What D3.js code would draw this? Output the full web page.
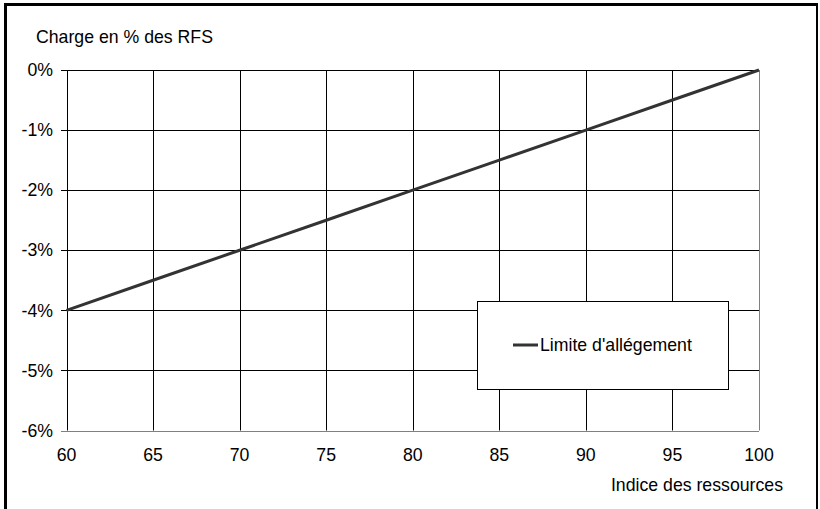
<!DOCTYPE html>
<html><head><meta charset="utf-8">
<script src="https://cdn.jsdelivr.net/npm/d3@7/dist/d3.min.js"></script>
<style>
body{margin:0;background:#fff;}
svg text{font-family:"Liberation Sans",Arial,sans-serif;font-size:17.7px;fill:#000;}
</style></head>
<body><svg id="c" width="820" height="509"></svg>
<script>
const indices = [60, 65, 70, 75, 80, 85, 90, 95, 100];
const limite = [-4, -3.5, -3, -2.5, -2, -1.5, -1, -0.5, 0];
const yTicks = [0, -1, -2, -3, -4, -5, -6];
const xTicks = [60, 65, 70, 75, 80, 85, 90, 95, 100];
const seriesName = "Limite d'allégement";
const yTitle = "Charge en % des RFS";
const xTitle = "Indice des ressources";

const svg = d3.select("#c");
const x = d3.scaleLinear().domain([60, 100]).range([66.5, 759]);
const y = d3.scaleLinear().domain([-6, 0]).range([430.5, 70]);

// outer frame (left, top, right)
svg.append("line").attr("x1",5.5).attr("x2",5.5).attr("y1",3).attr("y2",509).attr("stroke","#000").attr("stroke-width",3);
svg.append("line").attr("x1",4).attr("x2",818).attr("y1",4.5).attr("y2",4.5).attr("stroke","#000").attr("stroke-width",3);
svg.append("line").attr("x1",817).attr("x2",817).attr("y1",3).attr("y2",509).attr("stroke","#000").attr("stroke-width",2);

// gridlines
const g = svg.append("g");
g.selectAll(".hg").data(yTicks).join("line")
  .attr("x1", 61).attr("x2", x(100))
  .attr("y1", d => Math.round(y(d)) + 0.5).attr("y2", d => Math.round(y(d)) + 0.5)
  .attr("stroke", d => d === -6 ? "#808080" : "#000").attr("stroke-width", 1);
g.selectAll(".vg").data(xTicks).join("line")
  .attr("x1", d => Math.round(x(d)) + 0.5).attr("x2", d => Math.round(x(d)) + 0.5)
  .attr("y1", y(0)).attr("y2", y(-6))
  .attr("stroke", d => d === 100 ? "#808080" : "#000").attr("stroke-width", 1);
svg.append("line").attr("x1",61).attr("x2",x(100)).attr("y1",Math.round(y(0))+0.5).attr("y2",Math.round(y(0))+0.5).attr("stroke","#000");

// y tick labels
svg.selectAll(".yl").data(yTicks).join("text")
  .attr("x", 53).attr("y", d => y(d)).attr("dy", "0.35em")
  .attr("text-anchor", "end").text(d => d3.format(".0%")(d / 100).replace("−","-"));
// x tick labels
svg.selectAll(".xl").data(xTicks).join("text")
  .attr("x", d => x(d)).attr("y", 461)
  .attr("text-anchor", "middle").text(d => d);

// titles
svg.append("text").attr("x", 36).attr("y", 43).text(yTitle);
svg.append("text").attr("x", 783).attr("y", 491).attr("text-anchor", "end").text(xTitle);

// series line
const line = d3.line().x((d, i) => x(indices[i])).y(d => y(d));
svg.append("path").datum(limite).attr("d", line)
  .attr("fill", "none").attr("stroke", "#333").attr("stroke-width", 3);

// legend
svg.append("rect").attr("x", 477.5).attr("y", 301.5).attr("width", 251).attr("height", 88)
  .attr("fill", "#fff").attr("stroke", "#000").attr("stroke-width", 1);
svg.append("line").attr("x1", 513).attr("x2", 538).attr("y1", 345).attr("y2", 345)
  .attr("stroke", "#333").attr("stroke-width", 3);
svg.append("text").attr("x", 540).attr("y", 345).attr("dy", "0.35em").text(seriesName);
</script></body></html>
